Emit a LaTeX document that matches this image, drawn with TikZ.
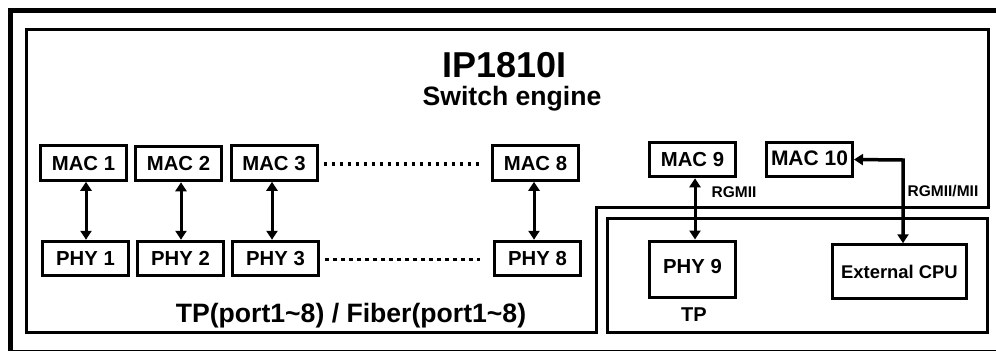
\documentclass[tikz,border=0pt]{standalone}
\usepackage{fontspec}
\setmainfont{Liberation Sans}
\usetikzlibrary{arrows.meta}
\tikzset{
  x=1pt,y=-1pt,
  box/.style={draw=black,line width=3pt,fill=white,inner sep=0pt,minimum width=86pt,minimum height=34.5pt,font=\bfseries\fontsize{20.3}{22}\selectfont,text height=14.5pt,text depth=0pt},
  link/.style={line width=3pt,{Triangle[length=9pt,width=11pt]}-{Triangle[length=9pt,width=11pt]}},
  dots/.style={line width=3.7pt,dash pattern=on 3.7pt off 4.3pt},
  frame/.style={draw=black,line width=3pt,line join=miter},
  lbl/.style={inner sep=0pt,font=\bfseries\fontsize{#1}{#1}\selectfont}
}
\begin{document}
\begin{tikzpicture}
\useasboundingbox (0,0) rectangle (996,351);
\fill[white] (0,0) rectangle (996,351);
% outer frame
\draw[line width=5pt] (10.5,351) -- (10.5,10) -- (996,10);
\draw[line width=1pt] (10.5,350.5) -- (996,350.5);
% switch outline
\draw[frame] (26.5,29.5) -- (988,29.5) -- (988,207) -- (596,207) -- (596,332) -- (26.5,332) -- cycle;
% lower box
\draw[frame] (607.5,218) rectangle (987,332.5);
% nodes
\node[box] (mac1) at (83.5,163) {MAC 1};
\node[box] (mac2) at (178.5,163.5) {MAC 2};
\node[box] (mac3) at (274,163) {MAC 3};
\node[box] (mac8) at (535.5,163) {MAC 8};
\node[box] (phy1) at (85.5,258.5) {PHY 1};
\node[box] (phy2) at (180.5,258.5) {PHY 2};
\node[box] (phy3) at (275.5,258.5) {PHY 3};
\node[box] (phy8) at (537.5,258.5) {PHY 8};
\node[box] (mac9) at (692.5,159.5) {MAC 9};
\node[box,font=\bfseries\fontsize{21}{22}\selectfont] (mac10) at (809.5,159.5) {\raisebox{1.5pt}{MAC 10}};
\node[box,minimum height=56pt] (phy9) at (692.5,269) {\raisebox{2.5pt}{PHY 9}};
\node[box,minimum width=134pt,minimum height=53.5pt,font=\bfseries\fontsize{18.4}{20}\selectfont,text height=13pt] (cpu) at (899.5,271.5) {External CPU};
% connectors
\draw[link] ([xshift=2.5pt]mac1.south) -- ([xshift=.5pt]phy1.north);
\draw[link] ([xshift=2.5pt]mac2.south) -- ([xshift=.5pt]phy2.north);
\draw[link] ([xshift=-2pt]mac3.south) -- ([xshift=-3.5pt]phy3.north);
\draw[link] ([xshift=-1.5pt]mac8.south) -- ([xshift=-3.5pt]phy8.north);
\draw[link] ([xshift=2.5pt]mac9.south) -- ([xshift=2.5pt]phy9.north);
\draw[link,line width=3.5pt] (mac10.east) -- (903,160) -- ([xshift=3.5pt]cpu.north);
\draw[dots,shorten <=5pt,shorten >=8pt] ([yshift=-.7pt]mac3.east) -- ([yshift=-.7pt]mac8.west);
\draw[dots,shorten <=5pt,shorten >=13pt] ([yshift=-1pt]phy3.east) -- ([yshift=-1pt]phy8.west);
% labels
\node[lbl=36] (title) at (504.5,65) {IP1810I};
\node[lbl=26.6] (sub) at (512,99) {Switch engine};
\node[lbl=26.6] (tp8) at (351,316) {TP(port1\textasciitilde 8) / Fiber(port1\textasciitilde 8)};
\node[lbl=15.5] (rg9) at (734,192.5) {RGMII};
\node[lbl=15.5] (rg10) at (943,191.5) {RGMII/MII};
\node[lbl=20] (tp) at (694,315) {TP};
\end{tikzpicture}
\end{document}
